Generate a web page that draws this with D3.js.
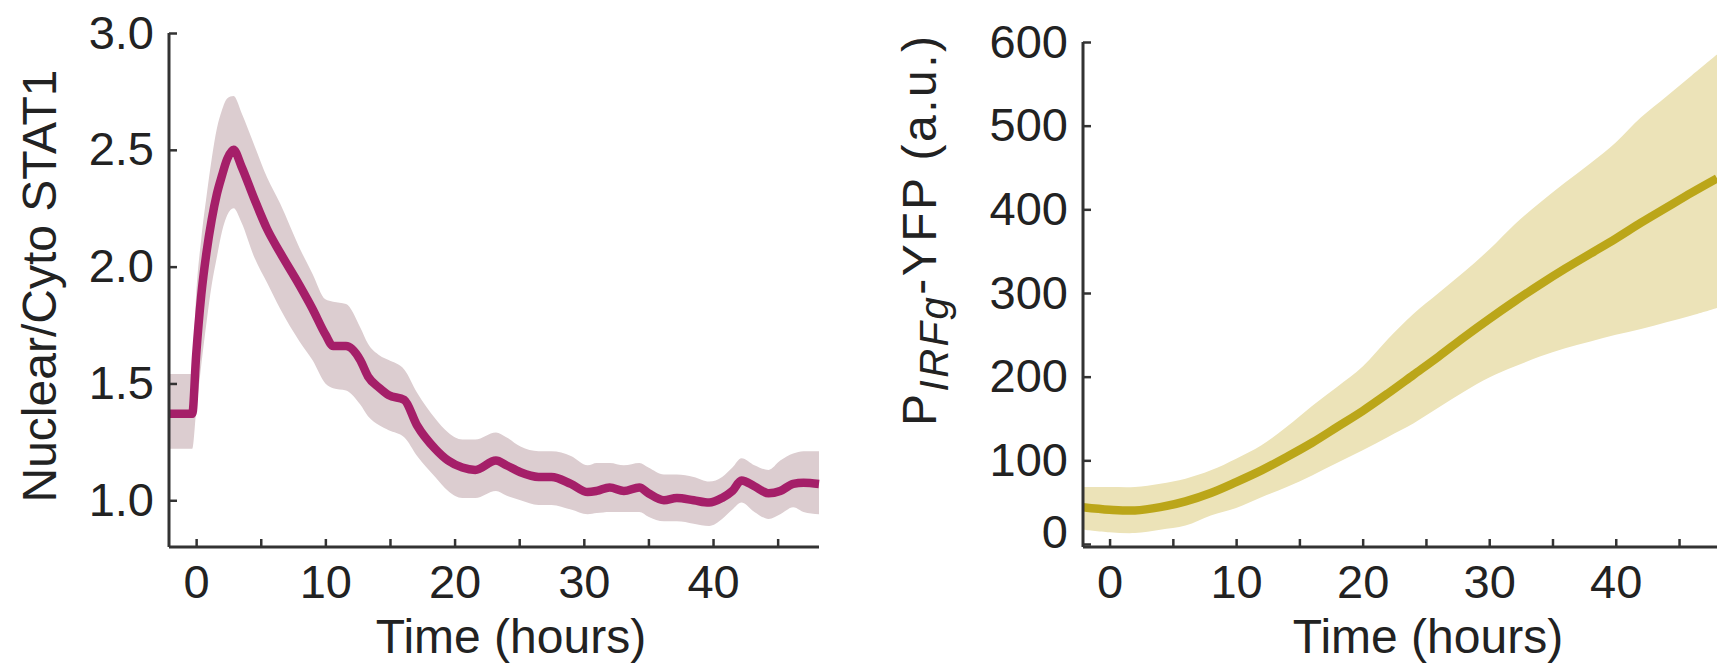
<!DOCTYPE html>
<html>
<head>
<meta charset="utf-8">
<script src="https://cdn.jsdelivr.net/npm/d3@7"></script>
<style>
  html, body { margin: 0; padding: 0; background: #fff; }
  svg { display: block; }
  text { font-family: "Liberation Sans", Arial, Helvetica, sans-serif; fill: #222; }
</style>
</head>
<body>
<svg id="fig" width="1717" height="665"></svg>
<script>
// Nuclear/cytoplasmic STAT1 ratio after stimulation (mean with spread band)
const stat1Time = [-2.1, -0.3, 0, 0.4, 0.8, 1.2, 1.6, 2.0, 2.4, 2.9, 3.5, 4.5, 5.5, 6.5, 8, 9, 10, 10.6, 11.6, 12.7, 13.3, 14.2, 14.9, 16.1, 17.1, 18.5, 19.5, 20.6, 21.6, 23.2, 24, 25.1, 26.5, 27.5, 29, 30.3, 31, 32, 33.1, 34.3, 35, 36.2, 37.2, 38.5, 39.7, 40.7, 41.5, 42.2, 43.2, 44.3, 45.2, 46.2, 47, 48.2];
const stat1Mean = [1.37, 1.37, 1.62, 1.88, 2.06, 2.2, 2.31, 2.39, 2.46, 2.50, 2.43, 2.29, 2.16, 2.06, 1.92, 1.82, 1.71, 1.66, 1.66, 1.60, 1.53, 1.48, 1.45, 1.43, 1.32, 1.22, 1.17, 1.14, 1.13, 1.17, 1.15, 1.12, 1.10, 1.10, 1.07, 1.035, 1.04, 1.055, 1.04, 1.055, 1.03, 1.0, 1.01, 1.0, 0.99, 1.01, 1.04, 1.085, 1.06, 1.03, 1.04, 1.07, 1.075, 1.07];
const stat1Upper = [1.54, 1.54, 1.88, 2.12, 2.30, 2.46, 2.59, 2.67, 2.72, 2.73, 2.66, 2.52, 2.38, 2.27, 2.08, 1.97, 1.86, 1.85, 1.84, 1.74, 1.67, 1.62, 1.60, 1.56, 1.46, 1.35, 1.29, 1.26, 1.26, 1.29, 1.27, 1.23, 1.21, 1.21, 1.19, 1.15, 1.16, 1.16, 1.15, 1.16, 1.14, 1.11, 1.11, 1.10, 1.08, 1.10, 1.14, 1.18, 1.15, 1.13, 1.17, 1.20, 1.21, 1.21];
const stat1Lower = [1.22, 1.22, 1.38, 1.58, 1.76, 1.92, 2.04, 2.15, 2.22, 2.25, 2.19, 2.04, 1.93, 1.82, 1.68, 1.60, 1.50, 1.48, 1.47, 1.41, 1.36, 1.32, 1.30, 1.27, 1.19, 1.10, 1.04, 1.01, 1.01, 1.04, 1.02, 1.00, 0.98, 0.98, 0.96, 0.94, 0.945, 0.95, 0.95, 0.95, 0.93, 0.91, 0.91, 0.90, 0.89, 0.92, 0.96, 0.99, 0.95, 0.92, 0.94, 0.97, 0.95, 0.94];

// Reporter fluorescence driven by the IRF promoter
const yfpTime  = [-2.1, 0, 2, 4, 6, 8, 10, 12, 14, 16, 18, 20, 22, 24, 26, 28, 30, 32, 34, 36, 38, 40, 42, 44, 46, 48];
const yfpMean  = [44, 41, 40, 44, 51, 61, 74, 88, 104, 121, 140, 159, 180, 202, 224, 247, 269, 290, 310, 329, 347, 365, 384, 402, 420, 437];
const yfpUpper = [68, 68, 68, 72, 78, 88, 102, 118, 140, 165, 188, 212, 245, 275, 300, 325, 352, 382, 408, 432, 455, 480, 510, 535, 560, 585];
const yfpLower = [17, 14, 13, 17, 22, 34, 43, 56, 68, 82, 97, 112, 128, 144, 163, 182, 199, 212, 224, 234, 242, 250, 257, 265, 273, 282];

const timeTicks = [0, 5, 10, 15, 20, 25, 30, 35, 40, 45];
const stat1Ticks = [1.0, 1.5, 2.0, 2.5, 3.0];
const yfpTicks = [0, 100, 200, 300, 400, 500, 600];

const svg = d3.select("#fig");
const tickFont = 47, titleFont = 48;

function panel(cfg) {
  const g = svg.append("g");
  const x = d3.scaleLinear().domain(cfg.xDomain).range(cfg.xRange);
  const y = d3.scaleLinear().domain(cfg.yDomain).range(cfg.yRange);
  const pts = cfg.time.map((t, i) => ({ t, m: cfg.mean[i], lo: cfg.lower[i], hi: cfg.upper[i] }));

  g.append("path")
    .datum(pts)
    .attr("fill", cfg.bandColor)
    .attr("d", d3.area().curve(cfg.curve)
      .x(d => x(d.t)).y0(d => y(d.lo)).y1(d => y(d.hi)));

  g.append("path")
    .datum(pts)
    .attr("fill", "none")
    .attr("stroke", cfg.lineColor)
    .attr("stroke-width", 8.5)
    .attr("stroke-linejoin", "round")
    .attr("d", d3.line().curve(cfg.curve).x(d => x(d.t)).y(d => y(d.m)));

  const xAxis = g.append("g")
    .attr("transform", `translate(0,${cfg.axisY})`)
    .call(d3.axisBottom(x).tickValues(timeTicks).tickSize(-8).tickSizeOuter(0)
      .tickPadding(18).tickFormat(d => d % 10 === 0 ? d : ""));
  const yAxis = g.append("g")
    .attr("transform", `translate(${cfg.xRange[0]},0)`)
    .call(d3.axisLeft(y).tickValues(cfg.yTicks).tickSize(-8).tickSizeOuter(0)
      .tickPadding(15).tickFormat(cfg.yFormat));

  [xAxis, yAxis].forEach(a => {
    a.select(".domain").attr("stroke", "#333").attr("stroke-width", 3);
    a.selectAll(".tick line").attr("stroke", "#333").attr("stroke-width", 2.5);
    a.selectAll(".tick text").attr("font-size", tickFont).attr("fill", "#222")
      .attr("font-family", "'Liberation Sans', Arial, sans-serif");
  });
  // y axis line spans the full plot height down to the time axis
  yAxis.select(".domain").attr("d", `M0,${cfg.yRange[1]}V${cfg.axisY}`);
  xAxis.select(".domain").attr("d", `M${cfg.xRange[0]},0H${cfg.xRange[1]}`);

  g.append("text")
    .attr("x", cfg.xTitleX).attr("y", 653)
    .attr("text-anchor", "middle").attr("font-size", titleFont)
    .text("Time (hours)");
  return { g, x, y, yAxis };
}

const left = panel({
  time: stat1Time, mean: stat1Mean, upper: stat1Upper, lower: stat1Lower,
  xDomain: [-2.1, 48.2], xRange: [169, 819],
  yDomain: [0.8, 3.0], yRange: [547, 33], axisY: 547,
  yTicks: stat1Ticks, yFormat: d3.format(".1f"),
  lineColor: "#a51f69", bandColor: "#dccdd0", xTitleX: 511,
  curve: d3.curveMonotoneX
});

left.g.append("text")
  .attr("transform", "translate(56,286) rotate(-90)")
  .attr("text-anchor", "middle").attr("font-size", titleFont)
  .text("Nuclear/Cyto STAT1");

const right = panel({
  time: yfpTime, mean: yfpMean, upper: yfpUpper, lower: yfpLower,
  xDomain: [-2.1, 48], xRange: [1083, 1717],
  yDomain: [-3.6, 600], yRange: [547, 42], axisY: 547,
  yTicks: yfpTicks, yFormat: d3.format("d"),
  lineColor: "#bba619", bandColor: "#ece3b8", xTitleX: 1428,
  curve: d3.curveCatmullRom
});
right.yAxis.selectAll(".tick text").filter(d => d === 0).attr("dy", "0.08em");

const yl = right.g.append("text")
  .attr("transform", "translate(936,231) rotate(-90)")
  .attr("text-anchor", "middle").attr("font-size", titleFont)
  .attr("textLength", 390).attr("lengthAdjust", "spacing");
yl.append("tspan").text("P");
yl.append("tspan").attr("font-style", "italic").attr("font-size", 40).attr("dy", 12).text("IRFg");
yl.append("tspan").attr("dy", -12).text("-YFP (a.u.)");
</script>
</body>
</html>
